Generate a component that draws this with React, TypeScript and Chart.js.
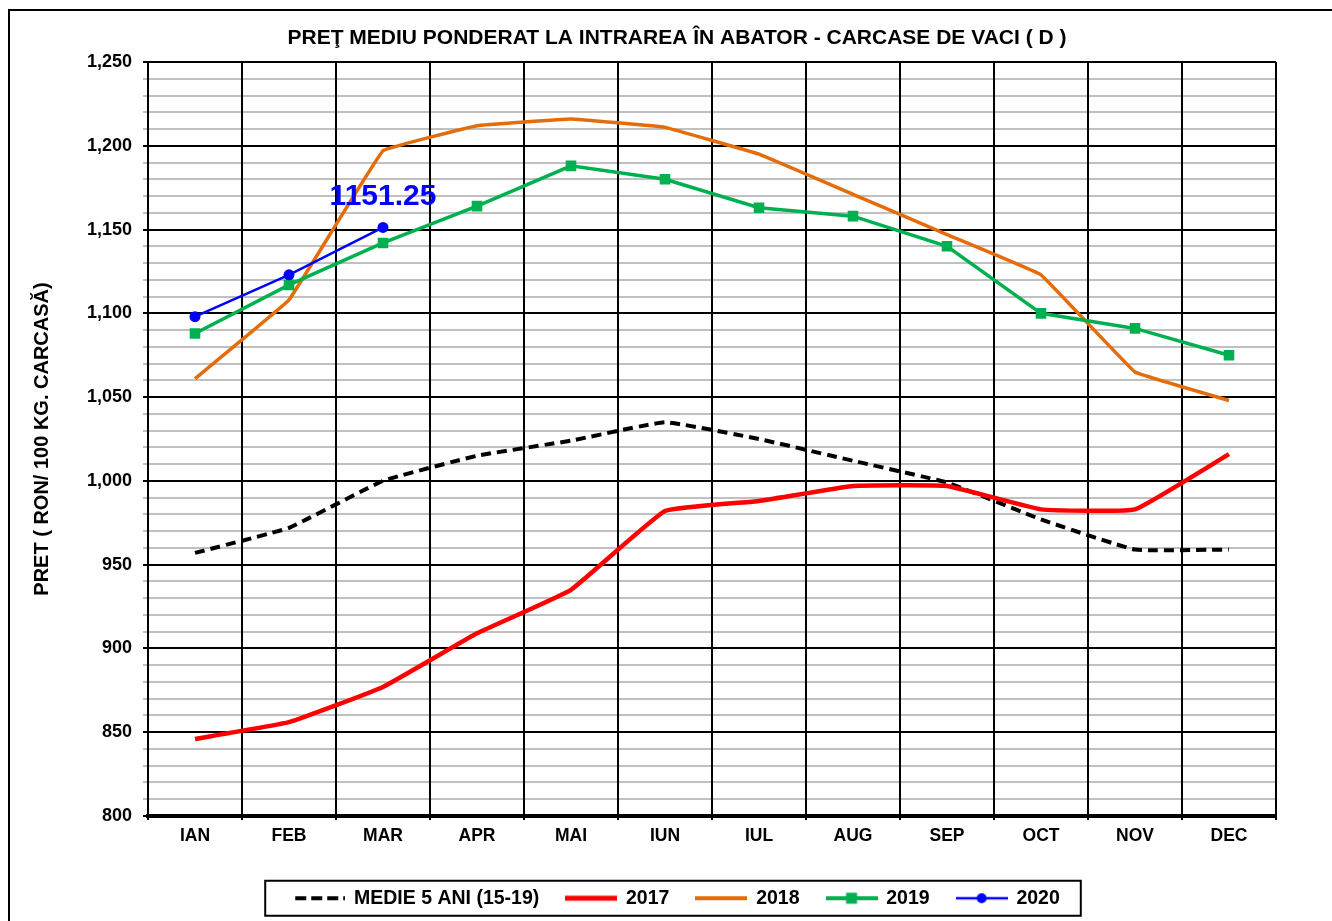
import React, { useEffect, useRef } from 'react';
import { Chart, registerables } from 'chart.js';

Chart.register(...registerables);

const TITLE = 'PREŢ MEDIU PONDERAT LA INTRAREA ÎN ABATOR - CARCASE DE VACI ( D )';
const Y_TITLE = 'PRET ( RON/ 100 KG. CARCASĂ)';
const MONTHS = ['IAN', 'FEB', 'MAR', 'APR', 'MAI', 'IUN', 'IUL', 'AUG', 'SEP', 'OCT', 'NOV', 'DEC'];
const MEDIE = [957, 972, 1000, 1015, 1024, 1035, 1025, 1012, 999, 977, 959, 959];
const Y2017 = [846, 856, 877, 909, 935, 982, 988, 997, 997, 983, 983, 1016];
const Y2018 = [1061, 1108, 1197, 1212, 1216, 1211, 1195, 1171, 1147, 1123, 1065, 1048];
const Y2019 = [1088, 1117, 1142, 1164, 1188, 1180, 1163, 1158, 1140, 1100, 1091, 1075];
const Y2020 = [1098, 1123, 1151.25];
const SERIES_LABELS = ['MEDIE 5 ANI (15-19)', '2017', '2018', '2019', '2020'];
const Y_MIN = 800;
const Y_MAX = 1250;
const Y_MINOR_STEP = 10;
const Y_MAJOR_STEP = 50;

const FONT = "'Liberation Sans', Arial, sans-serif";

function makeSample(color: string, width: number, dash: number[], marker?: 'rect' | 'circle') {
  const c = document.createElement('canvas');
  c.width = 52;
  c.height = 16;
  const g = c.getContext('2d')!;
  g.strokeStyle = color;
  g.lineWidth = width;
  g.setLineDash(dash);
  g.beginPath();
  g.moveTo(dash.length ? 2 : 0, 8);
  g.lineTo(52, 8);
  g.stroke();
  g.setLineDash([]);
  g.fillStyle = color;
  if (marker === 'rect') {
    g.fillRect(26 - 5.5, 8 - 5.5, 11, 11);
  } else if (marker === 'circle') {
    g.beginPath();
    g.arc(26, 8, 5, 0, Math.PI * 2);
    g.fill();
  }
  return c;
}

export default function App() {
  const ref = useRef<HTMLCanvasElement | null>(null);

  useEffect(() => {
    document.documentElement.style.overflow = 'hidden';
    document.body.style.overflow = 'hidden';
    const samples = [
      makeSample('#000000', 4, [11, 5]),
      makeSample('#ff0000', 5, []),
      makeSample('#e46c0a', 4, []),
      makeSample('#00b050', 4, [], 'rect'),
      makeSample('#0000ff', 2.5, [], 'circle'),
    ];

    const legendBox = {
      id: 'legendBox',
      afterDraw(chart: any) {
        const hb = chart.legend?.legendHitBoxes;
        if (!hb || !hb.length) return;
        const l = Math.min(...hb.map((h: any) => h.left));
        const r = Math.max(...hb.map((h: any) => h.left + h.width));
        const cy = hb[0].top + hb[0].height / 2;
        const ctx = chart.ctx;
        ctx.save();
        ctx.strokeStyle = '#000';
        ctx.lineWidth = 2;
        ctx.strokeRect(l - 29, cy - 17.5, r - l + 50, 35);
        ctx.restore();
      },
    };

    const dataLabel = {
      id: 'dataLabel',
      afterDatasetsDraw(chart: any) {
        const meta = chart.getDatasetMeta(4);
        const idx = Y2020.length - 1;
        const p = meta.data[idx];
        if (!p) return;
        const ctx = chart.ctx;
        ctx.save();
        ctx.font = `bold 30px ${FONT}`;
        ctx.fillStyle = '#0000ff';
        ctx.textAlign = 'center';
        ctx.textBaseline = 'middle';
        ctx.fillText(String(Y2020[idx]), p.x, p.y - 31);
        ctx.restore();
      },
    };

    const chart = new Chart(ref.current!, {
      type: 'line',
      data: {
        labels: MONTHS,
        datasets: [
          {
            label: SERIES_LABELS[0],
            data: MEDIE,
            borderColor: '#000000',
            borderWidth: 4,
            borderDash: [10, 6],
            pointRadius: 0,
            tension: 0.1,
            order: 4,
          },
          {
            label: SERIES_LABELS[1],
            data: Y2017,
            borderColor: '#ff0000',
            borderWidth: 4.5,
            pointRadius: 0,
            tension: 0.1,
            order: 3,
          },
          {
            label: SERIES_LABELS[2],
            data: Y2018,
            borderColor: '#e46c0a',
            borderWidth: 3.5,
            pointRadius: 0,
            tension: 0.05,
            order: 2,
          },
          {
            label: SERIES_LABELS[3],
            data: Y2019,
            borderColor: '#00b050',
            backgroundColor: '#00b050',
            borderWidth: 3.5,
            pointStyle: 'rect',
            pointRadius: 7.5,
            pointBorderWidth: 0,
            tension: 0,
            order: 1,
          },
          {
            label: SERIES_LABELS[4],
            data: Y2020,
            borderColor: '#0000ff',
            backgroundColor: '#0000ff',
            borderWidth: 2.5,
            pointStyle: 'circle',
            pointRadius: 5.5,
            pointBorderWidth: 0,
            tension: 0,
            order: 0,
          },
        ],
      },
      options: {
        responsive: false,
        animation: false,
        devicePixelRatio: 1,
        layout: { padding: { left: 12, right: 0, top: 0, bottom: 3 } },
        plugins: {
          title: {
            display: true,
            text: TITLE,
            color: '#000',
            font: { family: FONT, size: 21, weight: 'bold' },
            padding: { top: 14.4, bottom: 11.4 },
          },
          legend: {
            position: 'bottom',
            labels: {
              usePointStyle: true,
              pointStyleWidth: 50,
              padding: 27,
              color: '#000',
              font: { family: FONT, size: 19.5, weight: 'bold' },
              generateLabels: (ch: any) =>
                ch.data.datasets.map((ds: any, i: number) => ({
                  text: ds.label,
                  pointStyle: samples[i],
                  datasetIndex: i,
                  hidden: false,
                  fillStyle: 'rgba(0,0,0,0)',
                  strokeStyle: 'rgba(0,0,0,0)',
                  lineWidth: 0,
                  fontColor: '#000',
                })),
            },
          },
          tooltip: { enabled: false },
        },
        scales: {
          x: {
            offset: true,
            grid: {
              offset: true,
              color: '#000',
              lineWidth: 2,
              tickLength: 4,
              tickColor: '#000',
              z: -0.5,
            },
            border: { color: '#000', width: 4 },
            ticks: {
              color: '#000',
              padding: 6,
              font: { family: FONT, size: 17.5, weight: 'bold' },
              maxRotation: 0,
            },
            afterFit: (s: any) => {
              s.height = 45.5;
            },
          },
          y: {
            min: Y_MIN,
            max: Y_MAX,
            ticks: {
              stepSize: Y_MINOR_STEP,
              autoSkip: false,
              color: '#000',
              padding: 11,
              font: { family: FONT, size: 18, weight: 'bold' },
              callback: (v: any) => (Number(v) % Y_MAJOR_STEP === 0 ? Number(v).toLocaleString('en-US') : ''),
            },
            grid: {
              color: (c: any) => (c.tick && c.tick.value % Y_MAJOR_STEP === 0 ? '#000' : '#c0c0c0'),
              lineWidth: 2,
              tickLength: 5,
              z: -1,
            },
            border: { color: '#000', width: 2 },
            title: {
              display: true,
              text: Y_TITLE,
              color: '#000',
              font: { family: FONT, size: 20, weight: 'bold' },
              padding: { top: 8, bottom: 0 },
            },
            afterFit: (s: any) => {
              s.width = 126;
            },
          },
          yR: {
            position: 'right',
            display: true,
            grid: { display: false },
            border: { display: false },
            ticks: { display: false },
            afterFit: (s: any) => {
              s.width = 56;
            },
          },
        },
      },
      plugins: [legendBox, dataLabel],
    });
    return () => chart.destroy();
  }, []);

  return (
    <div
      style={{
        position: 'fixed',
        left: 8,
        top: 9,
        width: 1330,
        height: 920,
        borderTop: '2px solid #000',
        borderLeft: '2px solid #000',
        boxSizing: 'border-box',
        overflow: 'hidden',
        background: '#fff',
      }}
    >
      <canvas ref={ref} width={1322} height={910} style={{ display: 'block', width: 1322, height: 910 }} />
    </div>
  );
}
